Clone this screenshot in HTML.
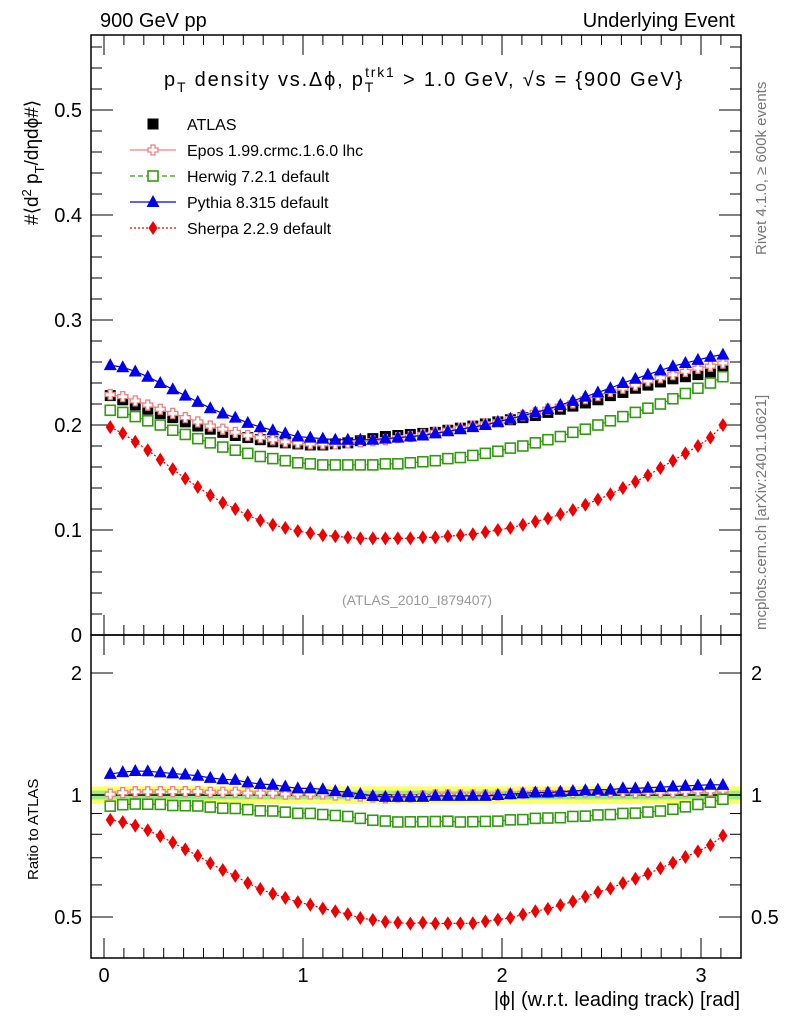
<!DOCTYPE html>
<html><head><meta charset="utf-8">
<style>
html,body{margin:0;padding:0;background:#fff;}
svg{display:block;font-family:"Liberation Sans",Arial,sans-serif;}
</style></head>
<body>
<svg id="chart" width="786" height="1024" viewBox="0 0 786 1024" xmlns="http://www.w3.org/2000/svg">
<text x="100" y="27" font-size="20">900 GeV pp</text>
<text x="735" y="27" font-size="20" text-anchor="end">Underlying Event</text>
<text x="164" y="86" font-size="20" letter-spacing="1.8">p<tspan font-size="14" dy="6">T</tspan><tspan dy="-6"> density vs.Δϕ, p</tspan><tspan font-size="14" dy="6">T</tspan><tspan font-size="14" dy="-15" dx="-10">trk1</tspan><tspan dy="9"> &gt; 1.0 GeV, √s = {900 GeV}</tspan></text>
<text transform="translate(766,255) rotate(-90)" font-size="15" fill="#777">Rivet 4.1.0, ≥ 600k events</text>
<text transform="translate(766,630) rotate(-90)" font-size="15" fill="#777">mcplots.cern.ch [arXiv:2401.10621]</text>
<text transform="translate(38,225) rotate(-90)" font-size="19">#⟨d<tspan font-size="13" dy="-7">2</tspan><tspan dy="7"> p</tspan><tspan font-size="13" dy="6">T</tspan><tspan dy="-6">/dηdϕ#⟩</tspan></text>
<text transform="translate(38,880) rotate(-90)" font-size="15">Ratio to ATLAS</text>
<text x="740" y="1006" font-size="20" text-anchor="end">|ϕ| (w.r.t. leading track) [rad]</text>
<text x="417" y="605" font-size="14" fill="#999" text-anchor="middle">(ATLAS_2010_I879407)</text>
<g id="g"></g>
</svg>
<script>
const atlas=[0.228,0.224,0.219,0.215,0.211,0.207,0.203,0.199,0.196,0.193,0.190,0.188,0.186,0.184,0.183,0.182,0.181,0.181,0.182,0.183,0.185,0.187,0.189,0.190,0.191,0.192,0.193,0.195,0.197,0.199,0.201,0.203,0.205,0.207,0.209,0.212,0.215,0.218,0.221,0.224,0.228,0.231,0.235,0.238,0.241,0.244,0.246,0.248,0.250,0.252];
const epos=[0.229,0.227,0.223,0.219,0.215,0.211,0.207,0.203,0.199,0.196,0.193,0.190,0.188,0.186,0.184,0.183,0.182,0.182,0.182,0.183,0.184,0.185,0.186,0.188,0.189,0.191,0.193,0.195,0.197,0.199,0.201,0.203,0.206,0.209,0.212,0.215,0.218,0.221,0.225,0.228,0.232,0.235,0.238,0.242,0.245,0.248,0.251,0.254,0.256,0.259];
const herwig=[0.214,0.212,0.208,0.204,0.200,0.195,0.191,0.187,0.183,0.179,0.176,0.173,0.170,0.168,0.166,0.164,0.163,0.162,0.162,0.162,0.162,0.162,0.163,0.163,0.164,0.165,0.166,0.168,0.169,0.171,0.173,0.175,0.178,0.180,0.183,0.186,0.189,0.193,0.196,0.200,0.204,0.208,0.212,0.216,0.220,0.225,0.230,0.235,0.240,0.246];
const pythia=[0.257,0.255,0.251,0.246,0.240,0.234,0.228,0.222,0.216,0.211,0.207,0.202,0.198,0.195,0.192,0.189,0.188,0.187,0.186,0.186,0.186,0.186,0.187,0.188,0.189,0.190,0.192,0.194,0.196,0.198,0.200,0.203,0.206,0.209,0.212,0.215,0.219,0.223,0.227,0.231,0.235,0.240,0.244,0.248,0.252,0.256,0.259,0.262,0.265,0.267];
const sherpa=[0.198,0.192,0.184,0.176,0.167,0.158,0.149,0.141,0.133,0.126,0.120,0.114,0.109,0.105,0.102,0.099,0.097,0.095,0.094,0.093,0.092,0.092,0.092,0.092,0.092,0.093,0.093,0.094,0.095,0.096,0.098,0.100,0.102,0.105,0.108,0.111,0.115,0.119,0.124,0.129,0.134,0.140,0.146,0.152,0.159,0.166,0.173,0.180,0.188,0.200];
const xTicks=[0,1,2,3];
const yTicks=[0,0.1,0.2,0.3,0.4,0.5];
const rTicks=[0.5,1,2];

const NS="http://www.w3.org/2000/svg";
const g=document.getElementById('g');
const X=v=>104+v*199;
const Y=v=>635-v*1050;
const R=r=>795-122*Math.log2(r);
const L=91,Rt=741,T=35,M=635,B=958;
function el(tag,attrs,parent){const e=document.createElementNS(NS,tag);for(const k in attrs)e.setAttribute(k,attrs[k]);(parent||g).appendChild(e);return e;}
const xc=i=>(i+0.5)*Math.PI/50;

let band=el('rect',{x:L,y:R(1.05),width:Rt-L,height:R(0.95)-R(1.05),fill:'#ffff66'});


let band2=el('rect',{x:L,y:R(1.025),width:Rt-L,height:R(0.975)-R(1.025),fill:'#99ee88'});


el('line',{x1:L,x2:Rt,y1:R(1),y2:R(1),stroke:'#000','stroke-width':1.5});

let f1=el('rect',{x:L,y:T,width:Rt-L,height:M-T,fill:'none',stroke:'#000','stroke-width':1.5});


let f2=el('rect',{x:L,y:M,width:Rt-L,height:B-M,fill:'none',stroke:'#000','stroke-width':1.5});



for(let k=0;k<=31;k++){const v=k/10;const big=k%10==0;const len=big?20:10;
 [[M,-1],[T,1],[B,-1],[M,1]].forEach(([y0,d])=>el('line',{x1:X(v),x2:X(v),y1:y0,y2:y0+d*len,stroke:'#000'}));}
xTicks.forEach(v=>{const t=el('text',{x:X(v),y:982,'font-size':20,'text-anchor':'middle'});t.textContent=v;
 
 });
for(let k=0;k<=28;k++){const v=k*0.02;const big=k%5==0;const len=big?22:11;
 el('line',{x1:L,x2:L+len,y1:Y(v),y2:Y(v),stroke:'#000'});el('line',{x1:Rt,x2:Rt-len,y1:Y(v),y2:Y(v),stroke:'#000'});}
yTicks.forEach(v=>{const t=el('text',{x:82,y:Y(v)+7,'font-size':20,'text-anchor':'end'});t.textContent=v;
 
 });
[0.5,0.6,0.7,0.8,0.9,1,2].forEach(v=>{const big=rTicks.includes(v);const len=big?22:11;
 el('line',{x1:L,x2:L+len,y1:R(v),y2:R(v),stroke:'#000'});el('line',{x1:Rt,x2:Rt-len,y1:R(v),y2:R(v),stroke:'#000'});});
rTicks.forEach(v=>{[[82,'end'],[751,'start']].forEach(([x,a])=>{const t=el('text',{x:x,y:R(v)+7,'font-size':20,'text-anchor':a});t.textContent=v;
 
 });});

function marker(type,x,y,col,p){
 if(type=='sq')return el('rect',{x:x-5.5,y:y-5.5,width:11,height:11,fill:'#000'},p);
 if(type=='osq')return el('rect',{x:x-5,y:y-5,width:10,height:10,fill:'#fff',stroke:col,'stroke-width':1.6},p);
 if(type=='tri')return el('polygon',{points:`${x},${y-7} ${x-6.5},${y+5} ${x+6.5},${y+5}`,fill:col},p);
 if(type=='dia')return el('polygon',{points:`${x},${y-7} ${x+4.5},${y} ${x},${y+7} ${x-4.5},${y}`,fill:col},p);
 if(type=='cross')return el('path',{d:`M${x-2},${y-5}h4v3h3v4h-3v3h-4v-3h-3v-4h3z`,fill:'#fff',stroke:col,'stroke-width':1.3},p);
}
const series=[
 {name:'atlas',d:atlas,type:'sq',col:'#000',dash:null,label:'ATLAS'},
 {name:'epos',d:epos,type:'cross',col:'#f08080',dash:'',label:'Epos 1.99.crmc.1.6.0 lhc'},
 {name:'herwig',d:herwig,type:'osq',col:'#339911',dash:'5,3',label:'Herwig 7.2.1 default'},
 {name:'pythia',d:pythia,type:'tri',col:'#0000ee',dash:'',label:'Pythia 8.315 default'},
 {name:'sherpa',d:sherpa,type:'dia',col:'#ee0000',dash:'2,2',label:'Sherpa 2.2.9 default'}];
const order=[0,1,2,3,4];
order.forEach(si=>{const s=series[si];
 const grp=el('g',{});
 
 
 const grpR=el('g',{});
 
 
 if(s.dash!==null){
  const pts=s.d.map((v,i)=>X(xc(i))+','+Y(v)).join(' ');
  el('polyline',{points:pts,fill:'none',stroke:s.col,'stroke-width':1.2,'stroke-dasharray':s.dash},grp);
  if(si!=0){const rp=s.d.map((v,i)=>X(xc(i))+','+R(v/atlas[i])).join(' ');
  el('polyline',{points:rp,fill:'none',stroke:s.col,'stroke-width':1.2,'stroke-dasharray':s.dash},grpR);}
 }
 s.d.forEach((v,i)=>{const m=marker(s.type,X(xc(i)),Y(v),s.col,grp);
  
  
  if(si!=0){const mr=marker(s.type,X(xc(i)),R(v/atlas[i]),s.col,grpR);
   
   }
 });
});
series.forEach((s,k)=>{const y=124+k*26;
 const lg=el('g',{});
 
 
 if(s.dash!==null)el('line',{x1:130,x2:176,y1:y,y2:y,stroke:s.col,'stroke-width':1.2,'stroke-dasharray':s.dash},lg);
 marker(s.type,153,y,s.col,lg);
 const t=el('text',{x:187,y:y+6,'font-size':16},lg);t.textContent=s.label;});
</script>
</body></html>
